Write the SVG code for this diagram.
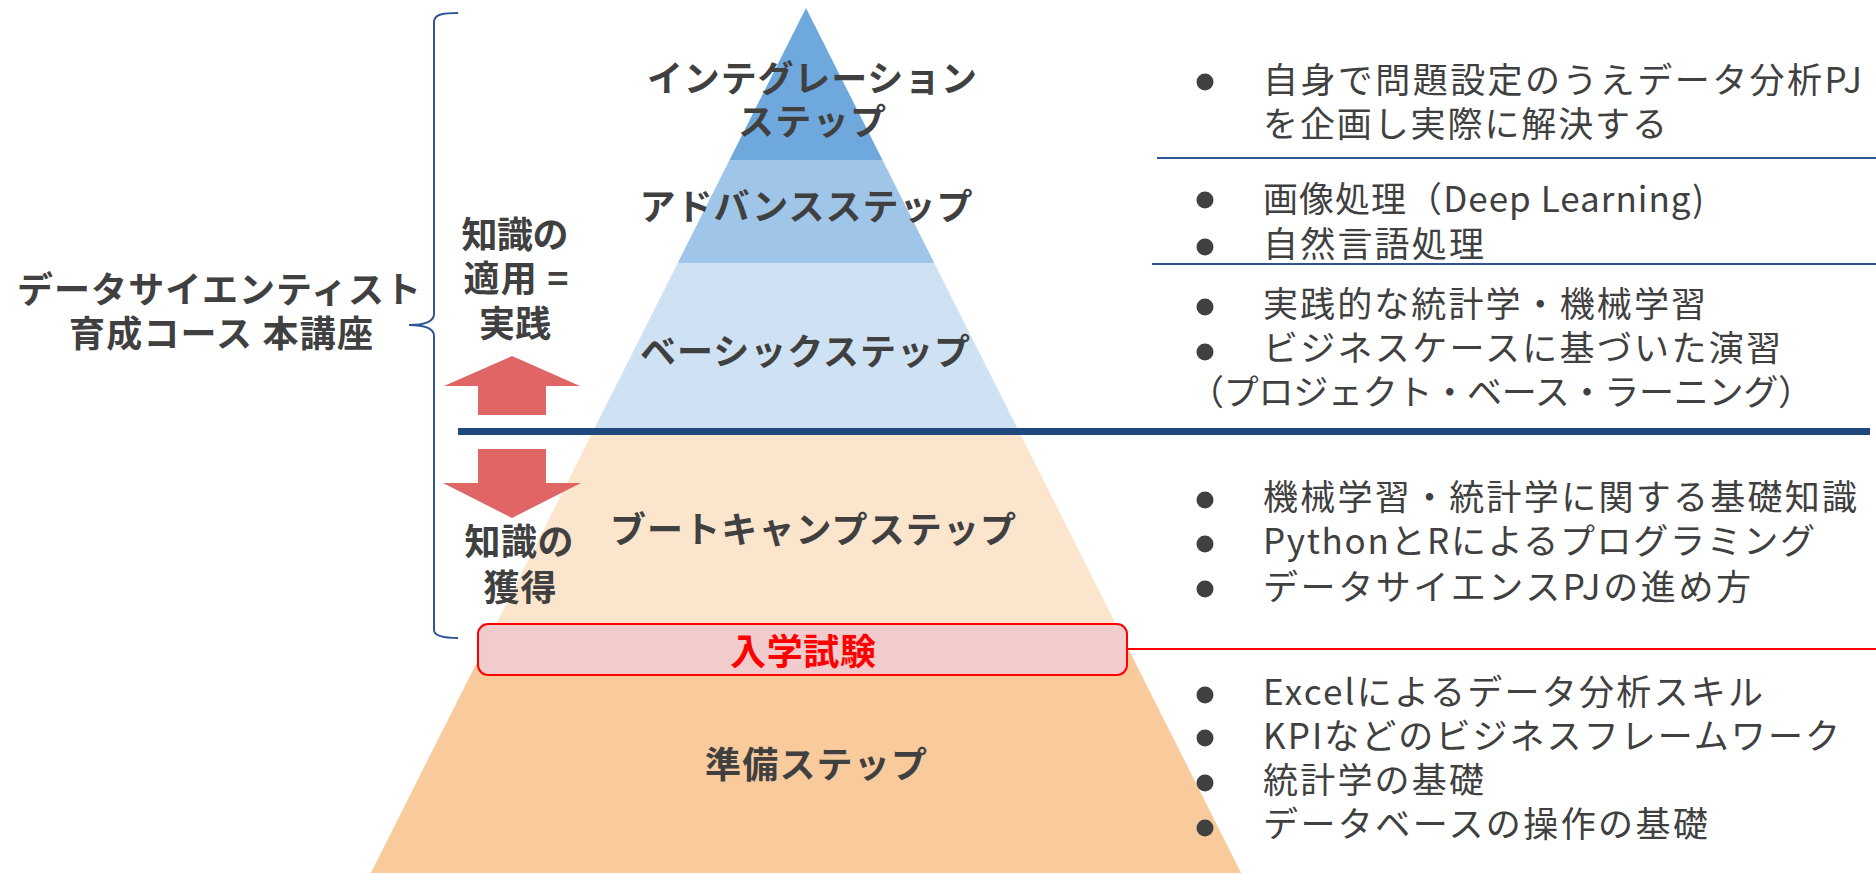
<svg xmlns="http://www.w3.org/2000/svg" width="1876" height="873" viewBox="0 0 1876 873">
<style>
.lbl{font-family:"Noto Sans CJK JP","Noto Sans CJK SC",sans-serif;font-weight:700;font-size:36px;fill:#404040;text-anchor:middle}
.item{font-family:"Noto Sans CJK JP","Noto Sans CJK SC",sans-serif;font-weight:400;font-size:35px;fill:#404040}
.exam{font-family:"Noto Sans CJK JP","Noto Sans CJK SC",sans-serif;font-weight:700;font-size:36px;fill:#ff0000;text-anchor:middle}
.dot{fill:#404040}
.arrow{fill:#e06666}
</style>
<rect width="1876" height="873" fill="#ffffff"/>
<g id="pyramid">
  <g id="step-preparation"><polygon points="483.1,650 1128.9,650 1241.1,873 370.9,873" fill="#f9cb9c"/>
    <text class="lbl" x="816" y="778" textLength="222">準備ステップ</text></g>
  <g id="step-bootcamp"><polygon points="593.2,431 1018.8,431 1128.9,650 483.1,650" fill="#fce5cd"/>
    <text class="lbl" x="813" y="543" textLength="406">ブートキャンプステップ</text></g>
  <g id="step-basic"><polygon points="677.7,263 934.3,263 1018.8,431 593.2,431" fill="#cfe2f3"/>
    <text class="lbl" x="805" y="365" textLength="330">ベーシックステップ</text></g>
  <g id="step-advanced"><polygon points="729.5,160 882.5,160 934.3,263 677.7,263" fill="#9fc5e8"/>
    <text class="lbl" x="806" y="220" textLength="333">アドバンスステップ</text></g>
  <g id="step-integration"><polygon points="806,8 882.5,160 729.5,160" fill="#6fa8dc"/>
    <text class="lbl" x="812" y="92" textLength="330">インテグレーション</text>
    <text class="lbl" x="812" y="135" textLength="148">ステップ</text></g>
</g>
<g id="connectors" fill="none">
  <line x1="458" y1="431.5" x2="1870" y2="431.5" stroke="#1f497d" stroke-width="7"/>
  <line x1="1157" y1="158" x2="1876" y2="158" stroke="#2f5597" stroke-width="2"/>
  <line x1="1152" y1="264" x2="1876" y2="264" stroke="#2f5597" stroke-width="2"/>
  <line x1="1127" y1="649" x2="1876" y2="649" stroke="#ff0000" stroke-width="2"/>
  <path d="M458,13 C444,13 434,14 434,22 L434,314 C434,322 424,325 409,325 C424,325 434,328 434,336 L434,630 C434,636 444,638 458,638" stroke="#2f5597" stroke-width="2"/>
</g>
<g id="exam">
  <rect x="478" y="624" width="649" height="51" rx="10" fill="#f2cccc" stroke="#ff0000" stroke-width="2"/>
  <text class="exam" x="803" y="665" textLength="146">入学試験</text>
</g>
<g id="course-label">
  <text class="lbl" x="219" y="303" textLength="404">データサイエンティスト</text>
  <text class="lbl" x="221" y="347" textLength="304">育成コース 本講座</text>
</g>
<g id="apply">
  <text class="lbl" x="515" y="248" textLength="107">知識の</text>
  <text class="lbl" x="516" y="292" textLength="105">適用 =</text>
  <text class="lbl" x="515" y="337" textLength="72">実践</text>
  <polygon class="arrow" points="512,356 580,386 546,386 546,415 478,415 478,386 444,386"/>
</g>
<g id="acquire">
  <polygon class="arrow" points="478,449 546,449 546,483 581,483 512,518 443,483 478,483"/>
  <text class="lbl" x="519" y="555" textLength="109">知識の</text>
  <text class="lbl" x="520" y="601" textLength="73">獲得</text>
</g>
<g id="desc-integration">
  <circle class="dot" cx="1205" cy="82" r="8.5"/>
  <text class="item" x="1263" y="93" textLength="599">自身で問題設定のうえデータ分析PJ</text>
  <text class="item" x="1263" y="137" textLength="404">を企画し実際に解決する</text>
</g>
<g id="desc-advanced">
  <circle class="dot" cx="1205" cy="200" r="8.5"/>
  <text class="item" x="1263" y="212" textLength="441">画像処理（Deep Learning)</text>
  <circle class="dot" cx="1205" cy="247" r="8.5"/>
  <text class="item" x="1263" y="257" textLength="221">自然言語処理</text>
</g>
<g id="desc-basic">
  <circle class="dot" cx="1205" cy="307" r="8.5"/>
  <text class="item" x="1263" y="317" textLength="443">実践的な統計学・機械学習</text>
  <circle class="dot" cx="1205" cy="352" r="8.5"/>
  <text class="item" x="1263" y="361" textLength="518">ビジネスケースに基づいた演習</text>
  <text class="item" x="1189" y="405" textLength="624">（プロジェクト・ベース・ラーニング）</text>
</g>
<g id="desc-bootcamp">
  <circle class="dot" cx="1205" cy="500" r="8.5"/>
  <text class="item" x="1263" y="510" textLength="594">機械学習・統計学に関する基礎知識</text>
  <circle class="dot" cx="1205" cy="544" r="8.5"/>
  <text class="item" x="1263" y="554" textLength="552">PythonとRによるプログラミング</text>
  <circle class="dot" cx="1205" cy="589" r="8.5"/>
  <text class="item" x="1263" y="600" textLength="488">データサイエンスPJの進め方</text>
</g>
<g id="desc-preparation">
  <circle class="dot" cx="1205" cy="695" r="8.5"/>
  <text class="item" x="1263" y="705" textLength="500">Excelによるデータ分析スキル</text>
  <circle class="dot" cx="1205" cy="738" r="8.5"/>
  <text class="item" x="1263" y="749" textLength="577">KPIなどのビジネスフレームワーク</text>
  <circle class="dot" cx="1205" cy="783" r="8.5"/>
  <text class="item" x="1263" y="793" textLength="221">統計学の基礎</text>
  <circle class="dot" cx="1205" cy="828" r="8.5"/>
  <text class="item" x="1263" y="837" textLength="445">データベースの操作の基礎</text>
</g>
</svg>
